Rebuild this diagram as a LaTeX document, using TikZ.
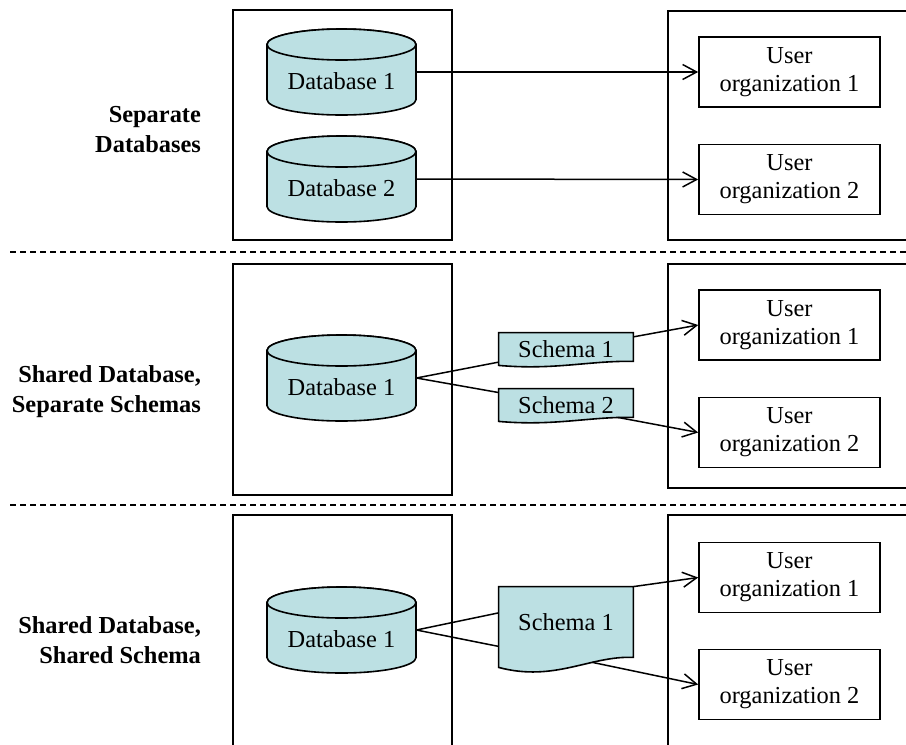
\documentclass[tikz,border=0pt]{standalone}
\usepackage{fontspec}
\setmainfont{Liberation Serif}
\usetikzlibrary{arrows.meta,calc,backgrounds}
\definecolor{dbfill}{RGB}{188,224,227}

% database cylinder drawn behind the named text node #1
\newcommand\dbcylinder[1]{%
  \begin{scope}[on background layer]
    \draw[dbline] ($(#1.center)+(-74.5,-27.5)$) -- ($(#1.center)+(-74.5,27.5)$)
      arc[start angle=180,end angle=0,x radius=74.5,y radius=15.5]
      -- ($(#1.center)+(74.5,-27.5)$)
      arc[start angle=0,end angle=-180,x radius=74.5,y radius=15.5] -- cycle;
    \draw[dbline] ($(#1.center)+(0,-27.5)$) ellipse[x radius=74.5,y radius=15.5];
  \end{scope}}

% document shape with a wavy lower edge around node #1;
% #2 rise of the right end, #3/#4 wave controls, #5 position of the tail coordinate
\newcommand\schemadoc[5]{%
  \begin{scope}[on background layer]
    \draw[docline] (#1.north west) -- (#1.north east) -- ($(#1.south east)+(0,-#2)$)
      .. controls +(-43,-#3) and +(56,#4) .. coordinate[pos=#5] (#1-tail) (#1.south west) -- cycle;
  \end{scope}}

\begin{document}
\begin{tikzpicture}[x=0.5pt,y=-0.5pt,
  font=\fontsize{12.2}{14}\selectfont,
  frame/.style={draw,line width=0.9pt,inner sep=0},
  userbox/.style={draw,line width=0.8pt,inner sep=0,minimum width=90.5pt,minimum height=35pt,align=center},
  dbtext/.style={inner sep=0,minimum width=74.5pt,text height=30pt,text depth=13pt},
  dbline/.style={line width=0.8pt,fill=dbfill},
  schema/.style={inner sep=0,minimum width=67pt},
  docline/.style={line width=0.8pt,fill=dbfill},
  link/.style={line width=0.75pt},
  arr/.style={link,-{Straight Barb[length=7pt,width=7.5pt]}},
  sepline/.style={line width=0.8pt,dash pattern=on 3pt off 2pt},
  tag/.style={font=\bfseries\fontsize{12.2}{15}\selectfont,align=right,anchor=east}]
\useasboundingbox (0,0) rectangle (906,745);
\clip (0,0) rectangle (906,745);

% section frames
\node[frame,minimum width=109.5pt,minimum height=115pt]   (lf1) at (342.5,125) {};
\node[frame,minimum width=109.5pt,minimum height=115.5pt] (lf2) at (342.5,379.5) {};
\node[frame,minimum width=109.5pt,minimum height=122.5pt] (lf3) at (342.5,637.5) {};
\node[frame,minimum width=131pt,minimum height=114.5pt]   (rf1) at (799,125.5) {};
\node[frame,minimum width=131pt,minimum height=112pt]     (rf2) at (799,376) {};
\node[frame,minimum width=131pt,minimum height=122.5pt]   (rf3) at (799,637.5) {};

% section separators
\draw[sepline] (10,252) -- (906,252);
\draw[sepline] (10,505) -- (906,505);

% section titles
\node[tag] (t1) at (208,130) {Separate\\Databases};
\node[tag] (t2) at (208,392) {Shared Database,\\Separate Schemas};
\node[tag] (t3) at (208,640) {Shared Database,\\Shared Schema};

% databases
\node[dbtext] (db1) at (341.5,72)  {Database 1};
\node[dbtext] (db2) at (341.5,179) {Database 2};
\node[dbtext] (db3) at (341.5,378) {Database 1};
\node[dbtext] (db4) at (341.5,630) {Database 1};
\dbcylinder{db1}
\dbcylinder{db2}
\dbcylinder{db3}
\dbcylinder{db4}

% user organizations
\node[userbox] (uo11) at (789.5,72)    {User\\organization 1};
\node[userbox] (uo12) at (789.5,179.5) {User\\organization 2};
\node[userbox] (uo21) at (789.5,325)   {User\\organization 1};
\node[userbox] (uo22) at (789.5,432.5) {User\\organization 2};
\node[userbox] (uo31) at (789.5,577.5) {User\\organization 1};
\node[userbox] (uo32) at (789.5,684.5) {User\\organization 2};

% schemas
\node[schema,minimum height=16pt] (sA) at (566,349) {Schema 1};
\node[schema,minimum height=16pt] (sB) at (566,405) {Schema 2};
\node[schema,minimum height=40pt,text depth=5pt] (sC) at (566,627) {Schema 1};
\schemadoc{sA}{4}{1}{5}{0.12}
\schemadoc{sB}{4}{1}{5}{0.12}
\schemadoc{sC}{10}{2}{15}{0.33}

% separate databases
\draw[arr] (db1.east) -- (uo11.west);
\draw[arr] (db2.east) -- (uo12.west);

% shared database, separate schemas
\draw[link] (db3.east) -- ($(sA.north west)!0.9!(sA.south west)$);
\draw[link] (db3.east) -- ($(sB.north west)!0.12!(sB.south west)$);
\draw[arr] ($(sA.north east)!0.13!(sA.south east)$) -- (uo21.west);
\draw[arr] (sB-tail) -- (uo22.west);

% shared database, shared schema
\draw[link] (db4.east) -- ($(sC.north west)!0.325!(sC.south west)$);
\draw[link] (db4.east) -- ($(sC.north west)!0.74!(sC.south west)$);
\draw[arr] (sC.north east) -- (uo31.west);
\draw[arr] (sC-tail) -- (uo32.west);
\end{tikzpicture}
\end{document}
